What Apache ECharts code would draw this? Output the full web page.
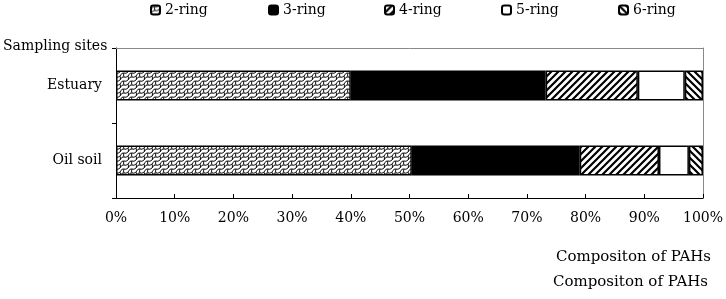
<!DOCTYPE html>
<html><head><meta charset="utf-8">
<script src="https://cdn.jsdelivr.net/npm/echarts@6/dist/echarts.min.js"></script>
<style>html,body{margin:0;padding:0;background:#fff}#c{width:726px;height:299px}</style>
</head><body><div id="c"></div>
<script>
const categories = ['Estuary', 'Oil soil'];
const seriesNames = ['2-ring', '3-ring', '4-ring', '5-ring', '6-ring'];
const ring2 = [40.0, 50.4];
const ring3 = [33.2, 28.6];
const ring4 = [15.7, 13.5];
const ring5 = [8.0, 5.1];
const ring6 = [3.1, 2.4];
const tickLabels = ['0%','10%','20%','30%','40%','50%','60%','70%','80%','90%','100%'];
const seriesValues = [ring2, ring3, ring4, ring5, ring6];

function tile(w, h, draw) {
  const c = document.createElement('canvas');
  c.width = w; c.height = h;
  const g = c.getContext('2d');
  g.fillStyle = '#fff'; g.fillRect(0, 0, w, h);
  draw(g, w, h);
  return c;
}
const scalePat = tile(8, 8, (g) => {
  g.strokeStyle = '#111'; g.lineWidth = 1;
  g.beginPath();
  g.moveTo(0, 4); g.quadraticCurveTo(2, 0, 4, 1); g.quadraticCurveTo(6, 2, 8, 0);
  g.moveTo(0, 8); g.quadraticCurveTo(2, 4, 4, 5); g.quadraticCurveTo(6, 6, 8, 4);
  g.moveTo(4, 1); g.quadraticCurveTo(3, 3, 4, 5);
  g.moveTo(0, 4); g.quadraticCurveTo(1, 6, 0, 8);
  g.moveTo(8, 4); g.quadraticCurveTo(9, 6, 8, 8);
  g.stroke();
});
const fwdPat = tile(7, 7, (g, w, h) => {
  g.strokeStyle = '#000'; g.lineWidth = 2.2;
  g.beginPath();
  for (let k = -1; k <= 1; k++) { g.moveTo(k * w - 1, h + 1); g.lineTo(k * w + w + 1, -1); }
  g.stroke();
});
const backPat = tile(7, 7, (g, w, h) => {
  g.strokeStyle = '#000'; g.lineWidth = 2.2;
  g.beginPath();
  for (let k = -1; k <= 1; k++) { g.moveTo(k * w - 1, -1); g.lineTo(k * w + w + 1, h + 1); }
  g.stroke();
});
const fills = [
  { image: scalePat, repeat: 'repeat' },
  '#000',
  { image: fwdPat, repeat: 'repeat' },
  '#fff',
  { image: backPat, repeat: 'repeat' }
];
const legendLefts = [150, 268, 384, 501, 618];
const font = 'DejaVu Serif';

const chart = echarts.init(document.getElementById('c'), null, { renderer: 'canvas' });
chart.setOption({
  animation: false,
  backgroundColor: '#fff',
  legend: seriesNames.map((n, i) => ({
    data: [n], left: legendLefts[i], top: 3, padding: 0, itemWidth: 9, itemHeight: 9, itemGap: 3,
    textStyle: { fontFamily: font, fontSize: 14, color: '#000' }
  })),
  grid: { left: 116, right: 22, top: 48, bottom: 101 },
  xAxis: [{
    type: 'value', min: 0, max: 100, interval: 10,
    axisLine: { show: true, lineStyle: { color: '#000', width: 1 } },
    axisTick: { show: true, inside: true, length: 4, lineStyle: { color: '#000' } },
    splitLine: { show: false },
    axisLabel: { fontFamily: font, fontSize: 14, color: '#000', margin: 13,
      formatter: (v) => tickLabels[Math.round(v / 10)] }
  }, {
    type: 'value', position: 'top', min: 0, max: 100, interval: 10,
    axisLine: { show: true, onZero: false, lineStyle: { color: '#888', width: 1 } },
    axisTick: { show: false }, axisLabel: { show: false }, splitLine: { show: false }
  }],
  yAxis: [{
    type: 'category', data: categories, inverse: true,
    axisLine: { show: true, lineStyle: { color: '#000', width: 1 } },
    axisTick: { show: true, length: 4, lineStyle: { color: '#000' } },
    axisLabel: { fontFamily: font, fontSize: 14, color: '#000', margin: 14 }
  }, {
    type: 'category', data: categories, inverse: true, position: 'right',
    axisLine: { show: true, onZero: false, lineStyle: { color: '#888', width: 1 } },
    axisTick: { show: false }, axisLabel: { show: false }
  }],
  graphic: [
    { type: 'text', left: 3, top: 39, style: { text: 'Sampling sites', font: '14px "DejaVu Serif"', fill: '#000' } },
    { type: 'text', left: 556, top: 250, style: { text: 'Compositon of PAHs', font: '15px "DejaVu Serif"', fill: '#000' } },
    { type: 'text', left: 553, top: 275, style: { text: 'Compositon of PAHs', font: '15px "DejaVu Serif"', fill: '#000' } }
  ],
  series: seriesNames.map((n, i) => ({
    name: n, type: 'bar', stack: 'all', barWidth: 30,
    data: seriesValues[i],
    itemStyle: { color: fills[i], borderColor: '#000', borderWidth: 1.5 }
  }))
});
</script>
</body></html>
